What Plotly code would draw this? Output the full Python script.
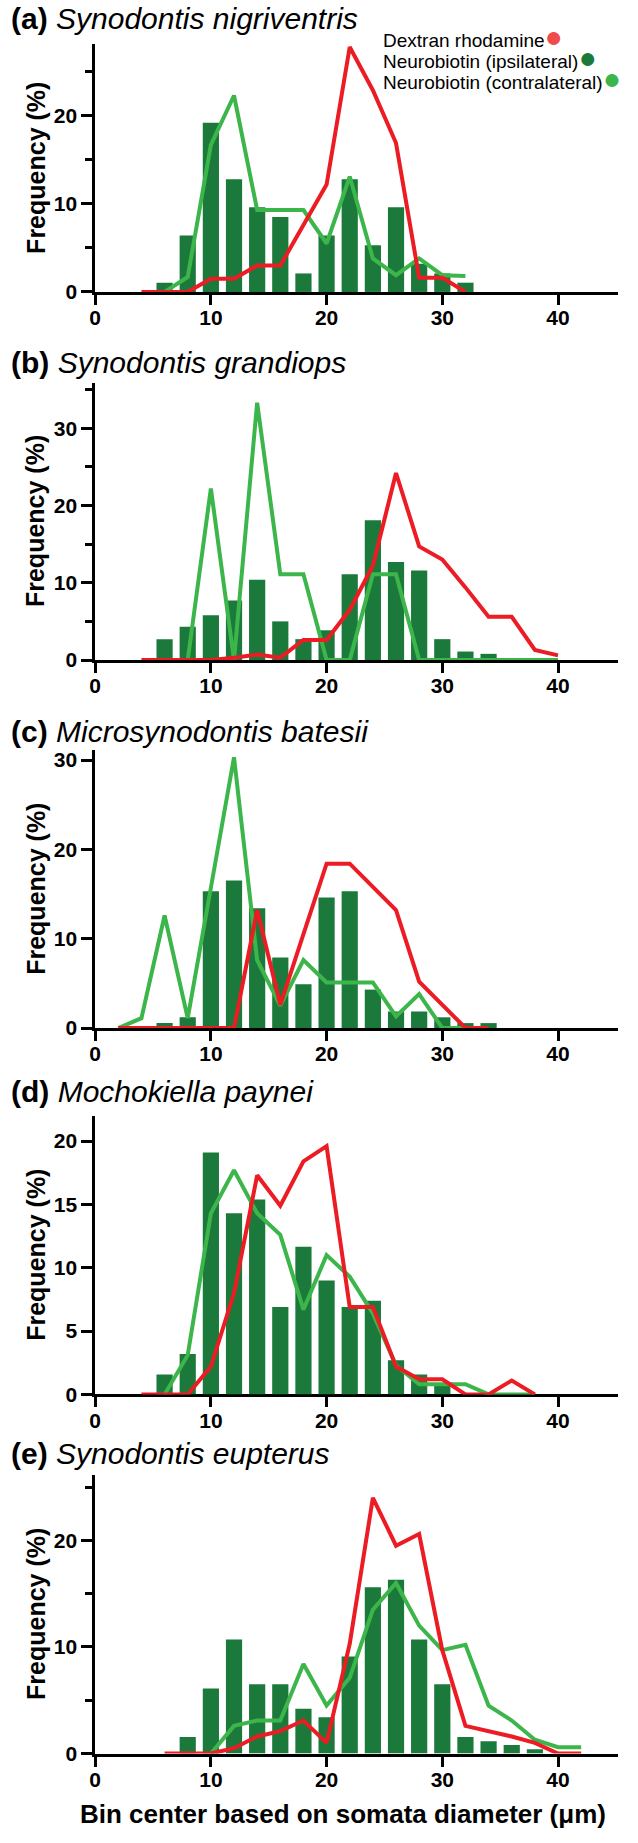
import plotly.graph_objects as go

W, H = 638, 1843

# ---------------- data ----------------
titles = ["(a)", "(b)", "(c)", "(d)", "(e)"]
species = ["Synodontis nigriventris", "Synodontis grandiops", "Microsynodontis batesii",
           "Mochokiella paynei", "Synodontis eupterus"]

a_ipsi_x = [6, 8, 10, 12, 14, 16, 18, 20, 22, 24, 26, 28, 30, 32]
a_ipsi = [1.05, 6.4, 19.2, 12.8, 9.6, 8.5, 2.1, 6.4, 12.8, 5.3, 9.6, 3.2, 2.1, 1.05]
a_dex_x = [4, 6, 8, 10, 12, 14, 16, 18, 20, 22, 24, 26, 28, 30, 32]
a_dex = [0, 0, 0, 1.5, 1.5, 3.0, 3.0, 7.6, 12.2, 27.8, 22.9, 16.9, 1.6, 1.6, 0]
a_con_x = [6, 8, 10, 12, 14, 16, 18, 20, 22, 24, 26, 28, 30, 32]
a_con = [0, 1.7, 16.7, 22.3, 9.3, 9.3, 9.3, 5.5, 13.1, 3.8, 1.9, 3.8, 1.9, 1.8]

b_ipsi_x = [6, 8, 10, 12, 14, 16, 18, 20, 22, 24, 26, 28, 30, 32, 34]
b_ipsi = [2.7, 4.3, 5.8, 7.7, 10.4, 5.0, 2.7, 3.85, 11.1, 18.1, 12.7, 11.6, 2.7, 1.1, 0.8]
b_dex_x = [4, 6, 8, 10, 12, 14, 16, 18, 20, 22, 24, 26, 28, 30, 32, 34, 36, 38, 40]
b_dex = [0, 0, 0, 0, 0.3, 0.7, 0.3, 2.6, 2.6, 6.5, 12.2, 24.2, 14.7, 13.0, 9.4, 5.6, 5.6, 1.3, 0.6]
b_con_x = [8, 10, 12, 14, 16, 18, 20, 22, 24, 26, 28, 30, 32, 34, 36, 38, 40]
b_con = [0, 22.2, 0, 33.3, 11.1, 11.1, 0, 0, 11.1, 11.1, 0, 0, 0, 0, 0, 0, 0]

c_ipsi_x = [6, 8, 10, 12, 14, 16, 18, 20, 22, 24, 26, 28, 30, 32, 34]
c_ipsi = [0.55, 1.2, 15.3, 16.5, 13.4, 7.9, 4.9, 14.6, 15.3, 4.3, 1.85, 1.85, 1.2, 0.55, 0.55]
c_dex_x = [2, 4, 6, 8, 10, 12, 14, 16, 18, 20, 22, 24, 26, 28, 30, 32, 34]
c_dex = [0, 0, 0, 0, 0, 0, 13.2, 2.6, 10.5, 18.4, 18.4, 15.8, 13.2, 5.2, 2.6, 0, 0]
c_con_x = [2, 4, 6, 8, 10, 12, 14, 16, 18, 20, 22, 24, 26, 28, 30, 32]
c_con = [0, 1.1, 12.6, 1.1, 15.7, 30.3, 7.6, 2.5, 7.6, 5.1, 5.1, 5.1, 1.3, 3.8, 0, 0]

d_ipsi_x = [6, 8, 10, 12, 14, 16, 18, 20, 22, 24, 26, 28, 30]
d_ipsi = [1.57, 3.2, 19.1, 14.3, 15.4, 6.9, 11.65, 9.0, 6.9, 7.4, 2.7, 1.57, 0.7]
d_dex_x = [4, 6, 8, 10, 12, 14, 16, 18, 20, 22, 24, 26, 28, 30, 32, 34, 36, 38]
d_dex = [0, 0, 0, 2.2, 8.0, 17.3, 14.9, 18.4, 19.6, 6.9, 6.9, 2.2, 1.2, 1.2, 0, 0, 1.1, 0]
d_con_x = [6, 8, 10, 12, 14, 16, 18, 20, 22, 24, 26, 28, 30, 32, 34, 36, 38]
d_con = [0, 3.1, 14.3, 17.7, 14.3, 12.6, 6.7, 11.0, 9.3, 6.4, 2.3, 0.8, 0.8, 0.8, 0, 0, 0]

e_ipsi_x = [8, 10, 12, 14, 16, 18, 20, 22, 24, 26, 28, 30, 32, 34, 36, 38]
e_ipsi = [1.55, 6.1, 10.7, 6.5, 6.5, 4.2, 3.4, 9.1, 15.6, 16.3, 10.7, 6.5, 1.55, 1.15, 0.8, 0.4]
e_dex_x = [6, 8, 10, 12, 14, 16, 18, 20, 22, 24, 26, 28, 30, 32, 34, 36, 38, 40, 42]
e_dex = [0, 0, 0, 0.5, 1.6, 2.1, 3.1, 1.0, 10.3, 24.0, 19.5, 20.6, 9.7, 2.6, 2.1, 1.6, 1.0, 0, 0]
e_con_x = [10, 12, 14, 16, 18, 20, 22, 24, 26, 28, 30, 32, 34, 36, 38, 40, 42]
e_con = [0, 2.6, 3.1, 3.1, 8.4, 4.5, 7.1, 13.5, 16.0, 12.0, 9.7, 10.2, 4.5, 3.1, 1.3, 0.6, 0.6]

x_ticks = [0, 10, 20, 30, 40]
y_ticks = [[0, 10, 20], [0, 10, 20, 30], [0, 10, 20, 30], [0, 5, 10, 15, 20], [0, 10, 20]]
y_minor = [[5, 15, 25], [5, 15, 25, 35], [], [], [5, 15, 25]]
y_max = [28.1, 35.9, 31.1, 22.0, 26.15]

legend_labels = ["Dextran rhodamine", "Neurobiotin (ipsilateral)", "Neurobiotin (contralateral)"]
x_title = "Bin center based on somata diameter (μm)"
y_title = "Frequency (%)"

# ---------------- style ----------------
C_RED = "#ec1c24"
C_DARK = "#1b7a3b"
C_LIGHT = "#3cb64a"
DOT_RED = "#f04a4a"
FONT = "Liberation Sans, Arial, Helvetica, sans-serif"

# panel geometry in pixels (top of axis, y=0 line)
panel_top = [42.7, 383.3, 753.5, 1121.7, 1483.3]
panel_bot = [292.0, 662.7, 1033.3, 1402.3, 1764.0]
title_y = [17, 363, 735, 1097, 1462]
x_left_px, x_right_px = 90.0, 618.0


def px(x):
    return x / W


def py(y):
    return 1 - y / H


panels = [
    (a_ipsi_x, a_ipsi, a_con_x, a_con, a_dex_x, a_dex),
    (b_ipsi_x, b_ipsi, b_con_x, b_con, b_dex_x, b_dex),
    (c_ipsi_x, c_ipsi, c_con_x, c_con, c_dex_x, c_dex),
    (d_ipsi_x, d_ipsi, d_con_x, d_con, d_dex_x, d_dex),
    (e_ipsi_x, e_ipsi, e_con_x, e_con, e_dex_x, e_dex),
]

fig = go.Figure()
annotations = []
layout_axes = {}

for i, (bx, by, gx, gy, rx, ry) in enumerate(panels):
    n = "" if i == 0 else str(i + 1)
    xa, ya = "x" + n, "y" + n
    fig.add_trace(go.Bar(x=bx, y=by, width=1.4, marker=dict(color=C_DARK, line=dict(width=0)),
                         xaxis=xa, yaxis=ya, showlegend=False))
    fig.add_trace(go.Scatter(x=gx, y=gy, mode="lines", line=dict(color=C_LIGHT, width=4),
                             cliponaxis=False, xaxis=xa, yaxis=ya, showlegend=False))
    fig.add_trace(go.Scatter(x=rx, y=ry, mode="lines", line=dict(color=C_RED, width=4),
                             cliponaxis=False, xaxis=xa, yaxis=ya, showlegend=False))

    layout_axes["xaxis" + n] = dict(
        domain=[px(x_left_px), px(x_right_px)], range=[0, 45.2], anchor=ya,
        tickvals=x_ticks, ticks="outside", ticklen=10, tickwidth=2.5, tickcolor="black",
        ticklabelstandoff=-5,
        showline=True, linewidth=3, linecolor="black", showgrid=False, zeroline=False,
        tickfont=dict(family=FONT, size=21, color="black", weight="bold"),
        layer="below traces", fixedrange=True,
    )
    yax = dict(
        domain=[py(panel_bot[i]), py(panel_top[i])], range=[0, y_max[i]], anchor=xa,
        tickvals=y_ticks[i], ticks="outside", ticklen=11, tickwidth=2.5, tickcolor="black",
        showline=True, linewidth=2.5, linecolor="black", showgrid=False, zeroline=False,
        tickfont=dict(family=FONT, size=21, color="black", weight="bold"),
        layer="below traces", fixedrange=True,
    )
    if y_minor[i]:
        yax["minor"] = dict(tickvals=y_minor[i], ticks="outside", ticklen=7, tickwidth=2.5,
                            tickcolor="black", showgrid=False)
    layout_axes["yaxis" + n] = yax

    annotations.append(dict(
        x=px(3), y=py(title_y[i]), xref="paper", yref="paper", xanchor="left", yanchor="middle",
        text="<b>" + titles[i] + "</b> <i>" + species[i] + "</i>", showarrow=False,
        font=dict(family=FONT, size=30, color="black"),
    ))
    annotations.append(dict(
        x=px(30), y=py((panel_top[i] + panel_bot[i]) / 2), xref="paper", yref="paper",
        xanchor="center", yanchor="middle", textangle=-90, showarrow=False,
        text="<b>" + y_title + "</b>", font=dict(family=FONT, size=25, color="black"),
    ))

dot_colors = [DOT_RED, C_DARK, C_LIGHT]
legend_y = [35, 56, 77]
for lab, col, ly in zip(legend_labels, dot_colors, legend_y):
    annotations.append(dict(
        x=px(379), y=py(ly), xref="paper", yref="paper", xanchor="left", yanchor="middle",
        showarrow=False, font=dict(family=FONT, size=19, color="black"),
        text=lab + "<span style='color:" + col + ";font-size:30px'>●</span>",
    ))

annotations.append(dict(
    x=px(340), y=py(1825), xref="paper", yref="paper", xanchor="center", yanchor="middle",
    showarrow=False, text="<b>" + x_title + "</b>", font=dict(family=FONT, size=26, color="black"),
))

fig.update_layout(
    width=W, height=H, autosize=False,
    margin=dict(l=0, r=0, t=0, b=0, pad=0),
    paper_bgcolor="white", plot_bgcolor="white",
    barmode="overlay", showlegend=False,
    annotations=annotations,
    **layout_axes,
)

fig.write_html(
    "out.html",
    config={"displayModeBar": False},
    post_script="document.body.style.margin='0px';document.body.style.padding='0px';"
                "document.body.style.overflow='hidden';",
)
